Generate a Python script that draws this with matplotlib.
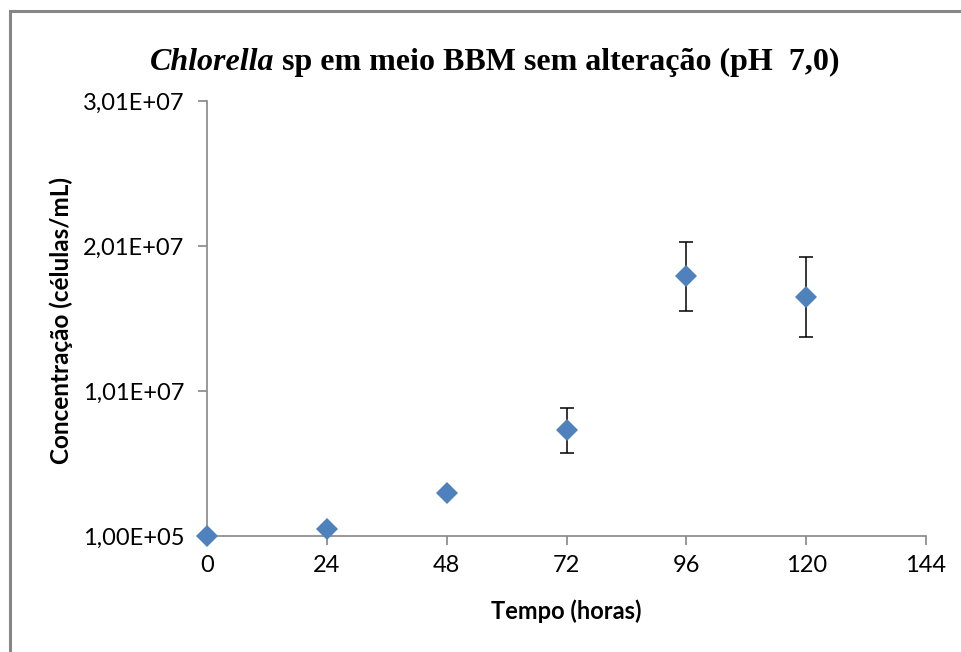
import matplotlib
matplotlib.use("Agg")
import matplotlib.pyplot as plt
from matplotlib.patches import Rectangle

# dados
tempo = [0, 24, 48, 72, 96, 120]
concentracao = [1.0e5, 5.8e5, 3.07e6, 7.4e6, 1.80e7, 1.655e7]
desvio = [0, 0, 0, 1.55e6, 2.35e6, 2.76e6]

xticks = [0, 24, 48, 72, 96, 120, 144]
yticks = [1.0e5, 1.01e7, 2.01e7, 3.01e7]
yticklabels = ["1,00E+05", "1,01E+07", "2,01E+07", "3,01E+07"]

cinza = "#868686"
azul = "#4F81BD"
fonte = "Lato"

fig = plt.figure(figsize=(9.61, 6.52), dpi=100)
ax = fig.add_axes([207 / 961, (652 - 536) / 652, (926 - 207) / 961, (536 - 101) / 652])

# barras de erro só onde tem desvio
ax.errorbar(tempo, concentracao, yerr=desvio, fmt="none", ecolor="black",
            elinewidth=1.1, capsize=5, capthick=1.1, zorder=2)
ax.plot(tempo, concentracao, "D", color=azul, markersize=11.5,
        markeredgewidth=0, zorder=3, clip_on=False)

ax.set_xlim(0, 144)
ax.set_ylim(1.0e5, 3.01e7)
ax.set_xticks(xticks)
ax.set_xticklabels([str(t) for t in xticks])
ax.set_yticks(yticks)
ax.set_yticklabels(yticklabels)

for s in ["top", "right"]:
    ax.spines[s].set_visible(False)
for s in ["left", "bottom"]:
    ax.spines[s].set_color(cinza)
    ax.spines[s].set_linewidth(1.2)
    ax.spines[s].set_zorder(1)

ax.tick_params(axis="both", colors=cinza, length=6.5, width=1.2, direction="out")
ax.tick_params(axis="x", pad=7)
ax.tick_params(axis="y", pad=10)
for lab in ax.get_xticklabels() + ax.get_yticklabels():
    lab.set_color("black")
    lab.set_fontfamily(fonte)
    lab.set_fontsize(17)

ax.set_xlabel("Tempo (horas)", fontfamily=fonte, fontweight="bold", fontsize=17, labelpad=17)
ax.set_ylabel("Concentração (células/mL)", fontfamily=fonte, fontweight="bold", fontsize=17.5)
ax.yaxis.set_label_coords(73 / 961, (652 - 320) / 652, transform=fig.transFigure)

# título com Chlorella em itálico
t1 = fig.text(150 / 961, (652 - 70) / 652, "Chlorella", fontfamily="Liberation Serif",
              fontweight="bold", fontstyle="italic", fontsize=23, ha="left", va="baseline")
ax.annotate(" sp em meio BBM sem alteração (pH  7,0)", xy=(1, 0), xycoords=t1,
            fontfamily="Liberation Serif", fontweight="bold", fontsize=23,
            ha="left", va="bottom", annotation_clip=False)

# moldura da área do gráfico
fig.add_artist(Rectangle((9.5 / 961, -0.2), 1.5, (652 - 11) / 652 + 0.2,
                         transform=fig.transFigure, fill=False,
                         edgecolor=cinza, linewidth=2.2))

fig.savefig("out.png", dpi=100)
